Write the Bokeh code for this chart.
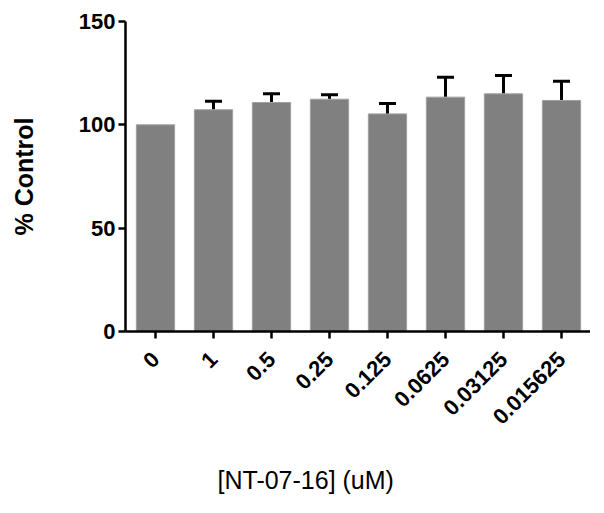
from bokeh.plotting import figure
from bokeh.models import Range1d, FixedTicker, Whisker, TeeHead, ColumnDataSource, LinearAxis, Title
from bokeh.embed import file_html
from bokeh.resources import INLINE
import math

# Data
categories = ["0", "1", "0.5", "0.25", "0.125", "0.0625", "0.03125", "0.015625"]
values = [100.0, 107.3, 110.8, 112.4, 105.3, 113.4, 115.0, 111.8]
errors = [0.0, 4.1, 4.2, 2.1, 5.0, 9.6, 8.9, 9.3]
y_ticks = [0, 50, 100, 150]
y_label = "% Control"
x_label = "[NT-07-16] (uM)"

FONT = "Liberation Sans"

xs = list(range(len(categories)))

p = figure(width=590, height=503, output_backend="svg", toolbar_location=None,
           x_range=Range1d(-0.517, 7.5), y_range=Range1d(0, 150),
           min_border_left=125, min_border_right=0, min_border_top=21, min_border_bottom=172)
p.outline_line_color = None
p.xgrid.visible = False
p.ygrid.visible = False
p.background_fill_color = "white"
p.border_fill_color = "white"

bars = ColumnDataSource(dict(x=xs, top=values))
p.vbar(x="x", top="top", width=0.66, source=bars,
       fill_color="#808080", line_color="#a0a0a0", line_width=1)

ex = [x for x, e in zip(xs, errors) if e > 0]
ev = [v for v, e in zip(values, errors) if e > 0]
eu = [v + e for v, e in zip(values, errors) if e > 0]
err_src = ColumnDataSource(dict(base=ex, lower=ev, upper=eu))
w = Whisker(base="base", lower="lower", upper="upper", source=err_src,
            line_color="black", line_width=3,
            upper_head=TeeHead(size=17, line_width=3, line_color="black"),
            lower_head=None)
p.add_layout(w)

# Y axis
p.yaxis.ticker = FixedTicker(ticks=y_ticks)
p.yaxis.axis_line_width = 2.5
p.yaxis.major_tick_line_width = 2.5
p.yaxis.major_tick_out = 7
p.yaxis.major_tick_in = 0
p.yaxis.minor_tick_line_color = None
p.yaxis.major_label_text_font = FONT
p.yaxis.major_label_text_font_style = "bold"
p.yaxis.major_label_text_font_size = "22px"
p.yaxis.major_label_text_color = "black"
p.yaxis.major_label_standoff = 3
p.yaxis.axis_label = y_label
p.yaxis.axis_label_text_font = FONT
p.yaxis.axis_label_text_font_style = "bold"
p.yaxis.axis_label_text_font_size = "25px"
p.yaxis.axis_label_text_color = "black"
p.yaxis.axis_label_standoff = 38

# X axis
p.xaxis.ticker = FixedTicker(ticks=xs)
p.xaxis.major_label_overrides = {i: c for i, c in zip(xs, categories)}
p.xaxis.major_label_orientation = math.pi / 4
p.xaxis.axis_line_width = 2.5
p.xaxis.major_tick_line_width = 2.5
p.xaxis.major_tick_out = 7
p.xaxis.major_tick_in = 0
p.xaxis.minor_tick_line_color = None
p.xaxis.major_label_text_font = FONT
p.xaxis.major_label_text_font_style = "bold"
p.xaxis.major_label_text_font_size = "22px"
p.xaxis.major_label_text_color = "black"
p.xaxis.major_label_standoff = 17

# Blank spacer axis (white, label-less) that pushes the x-axis title down
spacer = LinearAxis(ticker=FixedTicker(ticks=[7.45]), axis_line_color=None,
                    major_tick_line_color="white", minor_tick_line_color=None,
                    major_tick_out=30, major_tick_in=0,
                    major_label_overrides={7.45: ""}, major_label_text_font_size="0px")
p.add_layout(spacer, "below")

t = Title(text=x_label, align="left", offset=92, text_font=FONT,
          text_font_size="25px", text_font_style="normal", text_color="black",
          standoff=4, vertical_align="top")
p.add_layout(t, "below")

open("out.html", "w").write(file_html(p, INLINE))
